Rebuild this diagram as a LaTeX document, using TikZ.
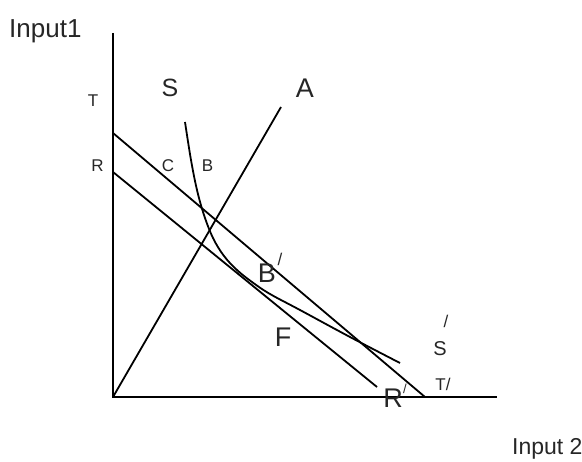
\documentclass[tikz,border=0pt]{standalone}
\usepackage{fontspec}
\setmainfont{Liberation Sans}
\begin{document}
\begin{tikzpicture}[x=1pt,y=-1pt,
  ln/.style={line width=1.8pt, black},
  sm/.style={inner sep=0pt, text=black!85, font=\fontsize{17}{17}\selectfont},
  md/.style={inner sep=0pt, text=black!85, font=\fontsize{20}{20}\selectfont},
  bg/.style={inner sep=0pt, text=black!85, font=\fontsize{27}{27}\selectfont}]
\useasboundingbox (0,0) rectangle (582,462);
% axes
\coordinate (O) at (113,397);
\coordinate (Ytop) at (113,33);
\coordinate (Xend) at (497,397);
\draw[ln] (Ytop) -- (O) -- (Xend);
% budget lines
\coordinate (T0) at (113,133);
\coordinate (T1) at (425,397);
\coordinate (R0) at (113,172);
\coordinate (R1) at (377,387);
\draw[ln] (T0) -- (T1);
\draw[ln] (R0) -- (R1);
% ray A
\coordinate (A1) at (281,107);
\draw[ln] (O) -- (A1);
% isoquant S
\draw[ln] plot[smooth, tension=0.6] coordinates {(185,122) (191,160) (197,190) (204,215) (213,238) (224,256) (237,270) (252,282) (270,294) (300,310) (350,337) (400,363)};
% labels
\node[inner sep=0pt, anchor=base west, text=black!85, font=\fontsize{26}{26}\selectfont] (in1) at (9,38) {Input1};
\node[inner sep=0pt, anchor=base west, text=black!85, font=\fontsize{23}{23}\selectfont] (in2) at (512,455) {Input 2};
\node[sm] (lT) at (93,101) {T};
\node[inner sep=0pt, text=black!85, font=\fontsize{25}{25}\selectfont] (lS) at (170,88) {S};
\node[bg] (lA) at (305,88) {A};
\node[sm] (lR) at (97.5,166) {R};
\node[sm] (lC) at (168,166) {C};
\node[sm] (lB) at (207.5,166) {B};
\node[bg] (lBp) at (267,273) {B};
\node[sm] (lBps) at (280,259) {/};
\node[bg] (lF) at (283,337) {F};
\node[sm] (lSps) at (446,321) {/};
\node[md] (lSp) at (440,349) {S};
\node[sm] (lTp) at (443,384) {T/};
\node[bg] (lRp) at (393,398) {R};
\node[inner sep=0pt, text=black!85, font=\fontsize{13}{13}\selectfont] (lRps) at (405,389) {/};
\end{tikzpicture}
\end{document}
